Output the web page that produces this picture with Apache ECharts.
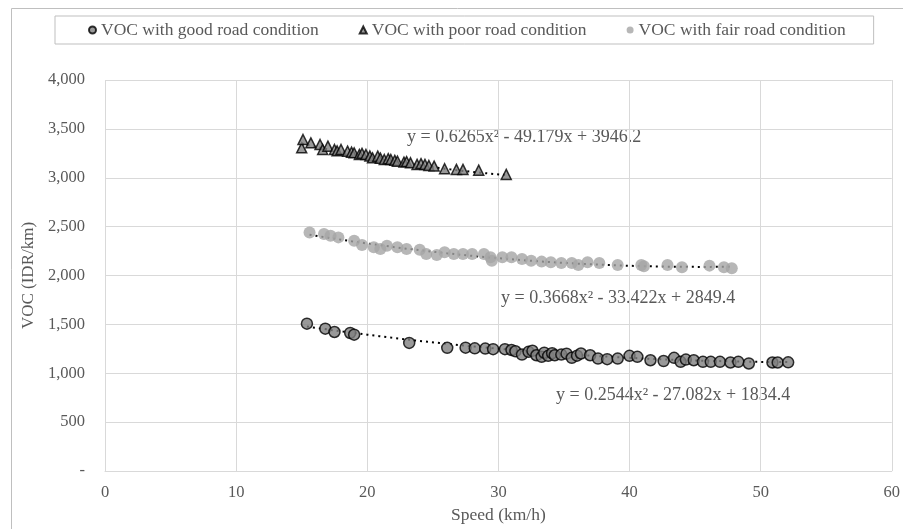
<!DOCTYPE html>
<html>
<head>
<meta charset="utf-8">
<script src="https://cdn.jsdelivr.net/npm/echarts@6/dist/echarts.min.js"></script>
<style>
  html, body { margin: 0; padding: 0; background: #fff; }
  #chart { width: 903px; height: 529px; }
</style>
</head>
<body>
<div id="chart"></div>
<script>
// ---- data: [speed km/h, VOC IDR/km] ----
var goodPoints = [
  [15.4,1507],[16.8,1456],[17.5,1422],[18.7,1412],[19.0,1395],[23.2,1310],[26.1,1260],
  [27.5,1262],[28.2,1255],[29.0,1252],[29.6,1246],[30.5,1246],[31.0,1238],[31.3,1225],
  [31.8,1191],[32.3,1219],[32.6,1230],[32.9,1184],[33.3,1168],[33.5,1210],[33.8,1178],
  [34.1,1205],[34.3,1184],[34.8,1191],[35.2,1200],[35.6,1158],[36.0,1180],[36.3,1202],
  [37.0,1184],[37.6,1150],[38.3,1144],[39.1,1150],[40.0,1178],[40.6,1168],[41.6,1133],
  [42.6,1125],[43.4,1158],[43.9,1117],[44.3,1140],[44.9,1133],[45.6,1117],[46.2,1117],
  [46.9,1117],[47.7,1110],[48.3,1117],[49.1,1100],[50.9,1110],[51.3,1110],[52.1,1112]
];
var poorPoints = [
  [15.0,3306],[15.1,3391],[15.7,3357],[16.4,3340],[16.6,3289],[17.0,3323],[17.5,3289],
  [17.7,3275],[18.0,3289],[18.5,3272],[18.8,3262],[19.0,3255],[19.4,3238],[19.6,3250],
  [19.9,3238],[20.2,3222],[20.4,3204],[20.8,3221],[21.0,3200],[21.3,3187],[21.6,3195],
  [21.8,3187],[22.1,3178],[22.3,3170],[22.8,3160],[23.0,3165],[23.3,3153],[23.8,3136],
  [24.1,3145],[24.4,3136],[24.7,3125],[25.1,3119],[25.9,3092],[26.8,3085],[27.3,3085],
  [28.5,3078],[30.6,3034]
];
var fairPoints = [
  [15.6,2441],[16.7,2424],[17.2,2406],[17.8,2390],[19.0,2355],[19.6,2312],[20.5,2288],
  [21.0,2271],[21.5,2305],[22.3,2288],[23.0,2271],[24.0,2264],[24.5,2220],[25.3,2210],
  [25.9,2237],[26.6,2220],[27.3,2220],[28.0,2220],[28.9,2220],[29.4,2186],[29.5,2152],
  [30.3,2186],[31.0,2186],[31.8,2169],[32.5,2152],[33.3,2142],[34.0,2135],[34.8,2128],
  [35.6,2128],[36.1,2108],[36.8,2135],[37.7,2128],[39.1,2108],[40.9,2108],[41.1,2095],
  [42.9,2108],[44.0,2085],[46.1,2101],[47.2,2085],[47.8,2074]
];

// polynomial trendlines as printed on the chart: [a, b, c] for y = a x^2 + b x + c
var goodTrend = [0.2544, -27.082, 1834.4];
var poorTrend = [0.6265, -49.179, 3946.2];
var fairTrend = [0.3668, -33.422, 2849.4];

var seriesNames = ['VOC with good road condition', 'VOC with poor road condition', 'VOC with fair road condition'];
var trendLabels = [
  'y = 0.2544x² - 27.082x + 1834.4',
  'y = 0.6265x² - 49.179x + 3946.2',
  'y = 0.3668x² - 33.422x + 2849.4'
];

// ---- helpers ----
function trendLine(coef, pts) {
  var xs = pts.map(function (p) { return p[0]; });
  var x0 = Math.min.apply(null, xs), x1 = Math.max.apply(null, xs);
  var out = [];
  for (var i = 0; i <= 40; i++) {
    var x = x0 + (x1 - x0) * i / 40;
    out.push([x, coef[0] * x * x + coef[1] * x + coef[2]]);
  }
  return out;
}

function trendSeries(coef, pts) {
  return {
    type: 'line',
    data: trendLine(coef, pts),
    showSymbol: false,
    symbol: 'none',
    silent: true,
    z: 3,
    lineStyle: { color: '#000', width: 2, type: [2, 4] }
  };
}

function eqText(txt, x, y) {
  return { type: 'text', left: x, top: y,
    style: { text: txt, font: '18px "Liberation Serif"', fill: TXT } };
}

var FONT = 'Liberation Serif';
var TXT = '#595959';

var chart = echarts.init(document.getElementById('chart'));

chart.setOption({
  animation: false,
  backgroundColor: '#fff',
  textStyle: { fontFamily: FONT },
  grid: { left: 105, right: 8, top: 80, bottom: 56 },
  legend: {
    data: [
      { name: seriesNames[0], icon: 'circle' },
      { name: seriesNames[1], icon: 'triangle' },
      { name: seriesNames[2], icon: 'circle' }
    ],
    top: 16,
    left: 55,
    itemWidth: 7,
    itemHeight: 7,
    itemGap: 40,
    padding: [5, 28, 5, 33],
    borderColor: '#bfbfbf',
    borderWidth: 1,
    textStyle: { fontFamily: FONT, fontSize: 17.5, color: TXT }
  },
  xAxis: {
    type: 'value',
    min: 0, max: 60, interval: 10,
    name: 'Speed (km/h)',
    nameLocation: 'middle',
    nameGap: 35,
    nameTextStyle: { fontFamily: FONT, fontSize: 17.5, color: TXT },
    axisLine: { show: true, lineStyle: { color: '#d9d9d9' } },
    axisTick: { show: false },
    axisLabel: { fontFamily: FONT, fontSize: 16.5, color: TXT, margin: 13 },
    splitLine: { show: true, lineStyle: { color: '#d9d9d9' } }
  },
  yAxis: {
    type: 'value',
    min: 0, max: 4000, interval: 500,
    name: 'VOC (IDR/km)',
    nameLocation: 'middle',
    nameGap: 68,
    nameTextStyle: { fontFamily: FONT, fontSize: 17, color: TXT },
    axisLine: { show: false },
    axisTick: { show: false },
    axisLabel: {
      fontFamily: FONT, fontSize: 16.5, color: TXT, margin: 20,
      formatter: function (v) { return v === 0 ? '-' : v.toLocaleString('en-US'); }
    },
    splitLine: { show: true, lineStyle: { color: '#d9d9d9' } }
  },
  graphic: [
    { type: 'rect', left: 9, top: 6, shape: { width: 892, height: 540 },
      style: { fill: 'none', stroke: '#bfbfbf', lineWidth: 1 }, silent: true, z: -10 },
    eqText(trendLabels[1], 407, 128),
    eqText(trendLabels[2], 501, 289),
    eqText(trendLabels[0], 556, 386)
  ],
  series: [
    {
      name: seriesNames[0], type: 'scatter', data: goodPoints, symbol: 'circle', symbolSize: 11, z: 4,
      itemStyle: { color: '#7f7f7f', borderColor: '#000', borderWidth: 1.5 }
    },
    {
      name: seriesNames[1], type: 'scatter', data: poorPoints, symbol: 'triangle', symbolSize: 10, z: 4,
      itemStyle: { color: '#7f7f7f', borderColor: '#000', borderWidth: 1.5 }
    },
    {
      name: seriesNames[2], type: 'scatter', data: fairPoints, symbol: 'circle', symbolSize: 12, z: 4,
      itemStyle: { color: '#a5a5a5' }
    },
    trendSeries(goodTrend, goodPoints),
    trendSeries(poorTrend, poorPoints),
    trendSeries(fairTrend, fairPoints)
  ]
});
</script>
</body>
</html>
